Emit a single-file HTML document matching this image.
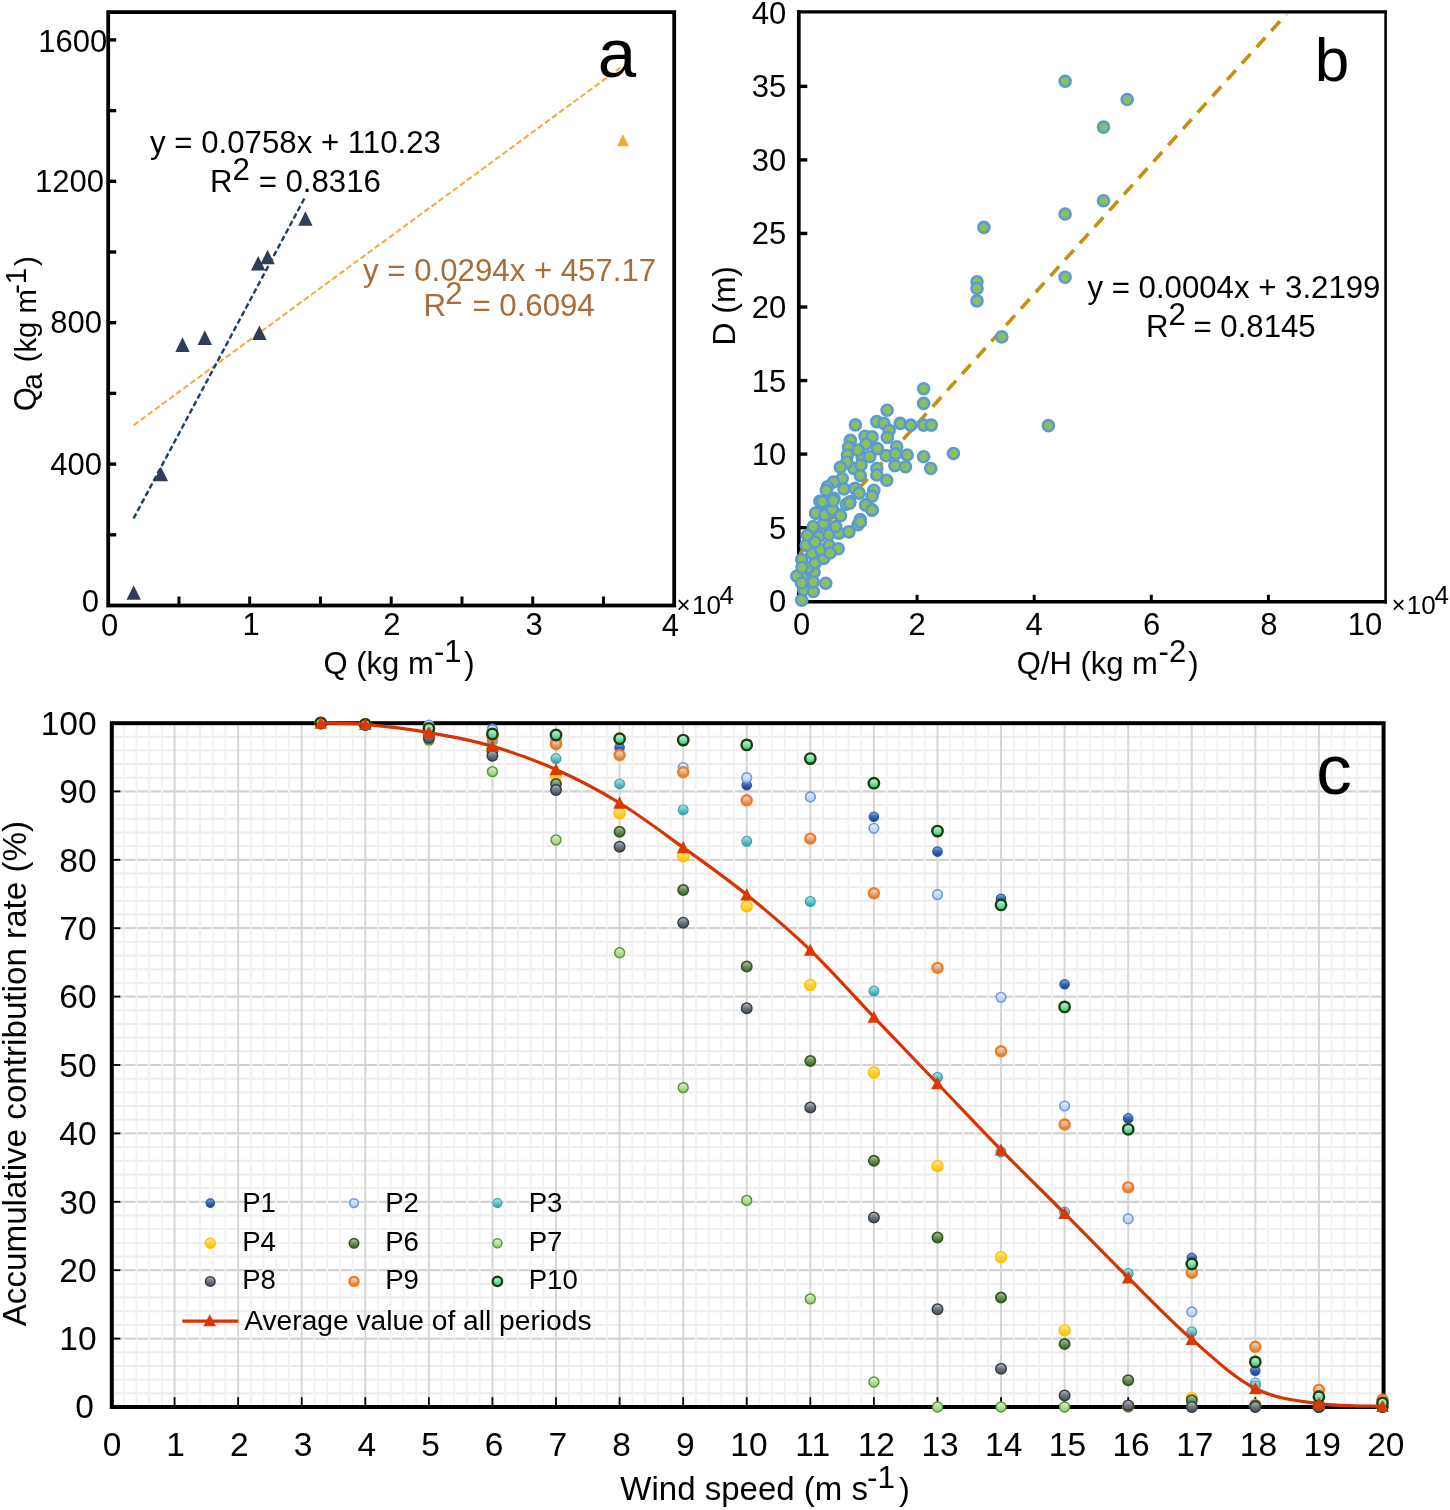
<!DOCTYPE html>
<html><head><meta charset="utf-8"><style>
html,body{margin:0;padding:0;background:#fff;}
svg{display:block;font-family:"Liberation Sans", sans-serif;will-change:transform;}
</style></head><body>
<svg width="1450" height="1510" viewBox="0 0 1450 1510">
<rect width="1450" height="1510" fill="#fff"/>
<g id="pa">
<line x1="133.60" y1="425.23" x2="620.50" y2="67.62" stroke="#f6a842" stroke-width="2.0" stroke-dasharray="6 2.8"/>
<line x1="133.60" y1="518.43" x2="304.90" y2="197.50" stroke="#f3e6a0" stroke-width="1.0"/>
<line x1="133.60" y1="518.43" x2="304.90" y2="197.50" stroke="#163f78" stroke-width="2.4" stroke-dasharray="5.5 3"/>
<path d="M133.7 585.2 L140.9 599.8 L126.5 599.8 Z" fill="#2e3e56"/>
<path d="M160.9 466.7 L168.1 481.3 L153.7 481.3 Z" fill="#2e3e56"/>
<path d="M182.5 337.3 L189.7 351.9 L175.3 351.9 Z" fill="#2e3e56"/>
<path d="M204.8 330.3 L212.0 344.9 L197.6 344.9 Z" fill="#2e3e56"/>
<path d="M259.4 325.4 L266.6 340.0 L252.2 340.0 Z" fill="#2e3e56"/>
<path d="M258.2 255.9 L265.4 270.5 L251.0 270.5 Z" fill="#2e3e56"/>
<path d="M267.6 249.7 L274.8 264.3 L260.4 264.3 Z" fill="#2e3e56"/>
<path d="M305.4 211.2 L312.6 225.8 L298.2 225.8 Z" fill="#2e3e56"/>
<path d="M623.0 134.3 L629.0 146.3 L617.0 146.3 Z" fill="#f2a93b"/>
<rect x="108.2" y="12.1" width="566.0" height="593.4" fill="none" stroke="#000" stroke-width="3.8"/>
<line x1="178.95" y1="605.50" x2="178.95" y2="596.50" stroke="#000" stroke-width="3"/>
<line x1="249.70" y1="605.50" x2="249.70" y2="596.50" stroke="#000" stroke-width="3"/>
<line x1="320.45" y1="605.50" x2="320.45" y2="596.50" stroke="#000" stroke-width="3"/>
<line x1="391.20" y1="605.50" x2="391.20" y2="596.50" stroke="#000" stroke-width="3"/>
<line x1="461.95" y1="605.50" x2="461.95" y2="596.50" stroke="#000" stroke-width="3"/>
<line x1="532.70" y1="605.50" x2="532.70" y2="596.50" stroke="#000" stroke-width="3"/>
<line x1="603.45" y1="605.50" x2="603.45" y2="596.50" stroke="#000" stroke-width="3"/>
<line x1="108.20" y1="534.80" x2="116.20" y2="534.80" stroke="#000" stroke-width="3.4"/>
<line x1="108.20" y1="464.10" x2="116.20" y2="464.10" stroke="#000" stroke-width="3.4"/>
<line x1="108.20" y1="393.40" x2="116.20" y2="393.40" stroke="#000" stroke-width="3.4"/>
<line x1="108.20" y1="322.70" x2="116.20" y2="322.70" stroke="#000" stroke-width="3.4"/>
<line x1="108.20" y1="252.00" x2="116.20" y2="252.00" stroke="#000" stroke-width="3.4"/>
<line x1="108.20" y1="181.30" x2="116.20" y2="181.30" stroke="#000" stroke-width="3.4"/>
<line x1="108.20" y1="110.60" x2="116.20" y2="110.60" stroke="#000" stroke-width="3.4"/>
<line x1="108.20" y1="39.90" x2="116.20" y2="39.90" stroke="#000" stroke-width="3.4"/>
<text x="38.17" y="51.59" font-size="31" fill="#000">1600</text>
<text x="34.97" y="192.49" font-size="31" fill="#000">1200</text>
<text x="50.37" y="333.09" font-size="31" fill="#000">800</text>
<text x="50.37" y="474.89" font-size="31" fill="#000">400</text>
<text x="81.86" y="612.49" font-size="31" fill="#000">0</text>
<text x="109.5" y="636.10" font-size="31" text-anchor="middle">0</text>
<text x="251.2" y="635.30" font-size="31" text-anchor="middle">1</text>
<text x="391.8" y="635.30" font-size="31" text-anchor="middle">2</text>
<text x="534.1" y="635.30" font-size="31" text-anchor="middle">3</text>
<text x="670.3" y="635.50" font-size="31" text-anchor="middle">4</text>
<text x="676.62" y="613.40" font-size="24" fill="#000">×</text>
<text x="692.05" y="614.34" font-size="26" fill="#000">10</text>
<text x="719.51" y="604.30" font-size="26" fill="#000">4</text>
<text x="323.53" y="674.10" font-size="31" fill="#000">Q (kg m</text>
<text x="433.91" y="662.00" font-size="31" fill="#000">-1</text>
<text x="464.37" y="674.10" font-size="31" fill="#000">)</text>
<g transform="translate(36,409.9) rotate(-90)">
<text x="-1.47" y="0.00" font-size="31" fill="#000">Q</text>
<text x="20.12" y="5.70" font-size="30" fill="#000">a</text>
<text x="47.67" y="0.00" font-size="29.2" fill="#000">(kg m</text>
<text x="115.87" y="-10.10" font-size="29.5" fill="#000">-1</text>
<text x="143.98" y="0.00" font-size="29.5" fill="#000">)</text>
</g>
<text x="150.12" y="152.70" font-size="31.2" fill="#000">y = 0.0758x + 110.23</text>
<text x="209.93" y="192.40" font-size="31.2" fill="#000">R</text>
<text x="232.44" y="180.00" font-size="31.2" fill="#000">2</text>
<text x="258.64" y="192.40" font-size="31.2" fill="#000">= 0.8316</text>
<text x="363.12" y="280.60" font-size="31.2" fill="#a96d3c">y = 0.0294x + 457.17</text>
<text x="423.43" y="316.00" font-size="31.2" fill="#a96d3c">R</text>
<text x="445.34" y="303.80" font-size="31.2" fill="#a96d3c">2</text>
<text x="472.44" y="316.00" font-size="31.2" fill="#a96d3c">= 0.6094</text>
<text x="597.77" y="77.00" font-size="69" fill="#000">a</text>
</g>
<g id="pb">
<path d="M798.8 10.3 V603.6" stroke="#000" stroke-width="3.7"/>
<path d="M797 601.8 H1386.9" stroke="#000" stroke-width="3.4"/>
<path d="M1385.6 603.5 V10.4" stroke="#000" stroke-width="2.6"/>
<path d="M797 11.9 H1386.9" stroke="#000" stroke-width="3.1"/>
<line x1="917.10" y1="601.80" x2="917.10" y2="594.80" stroke="#000" stroke-width="3"/>
<line x1="1034.20" y1="601.80" x2="1034.20" y2="594.80" stroke="#000" stroke-width="3"/>
<line x1="1151.30" y1="601.80" x2="1151.30" y2="594.80" stroke="#000" stroke-width="3"/>
<line x1="1268.40" y1="601.80" x2="1268.40" y2="594.80" stroke="#000" stroke-width="3"/>
<line x1="798.80" y1="527.65" x2="807.30" y2="527.65" stroke="#000" stroke-width="3.4"/>
<line x1="798.80" y1="454.10" x2="807.30" y2="454.10" stroke="#000" stroke-width="3.4"/>
<line x1="798.80" y1="380.55" x2="807.30" y2="380.55" stroke="#000" stroke-width="3.4"/>
<line x1="798.80" y1="307.00" x2="807.30" y2="307.00" stroke="#000" stroke-width="3.4"/>
<line x1="798.80" y1="233.45" x2="807.30" y2="233.45" stroke="#000" stroke-width="3.4"/>
<line x1="798.80" y1="159.90" x2="807.30" y2="159.90" stroke="#000" stroke-width="3.4"/>
<line x1="798.80" y1="86.35" x2="807.30" y2="86.35" stroke="#000" stroke-width="3.4"/>
<line x1="800" y1="553.8" x2="1286.5" y2="14" stroke="#c3900f" stroke-width="3.6" stroke-dasharray="13 9"/>
<circle cx="1065.1" cy="81.2" r="5.5" fill="#8bbf5e" stroke="#5b9bd5" stroke-width="2.6"/>
<circle cx="1127.2" cy="99.5" r="5.5" fill="#8bbf5e" stroke="#5b9bd5" stroke-width="2.6"/>
<circle cx="1103.5" cy="127.1" r="5.5" fill="#8bbf5e" stroke="#5b9bd5" stroke-width="2.6"/>
<circle cx="1103.5" cy="200.8" r="5.5" fill="#8bbf5e" stroke="#5b9bd5" stroke-width="2.6"/>
<circle cx="1065.1" cy="214.0" r="5.5" fill="#8bbf5e" stroke="#5b9bd5" stroke-width="2.6"/>
<circle cx="983.9" cy="227.4" r="5.5" fill="#8bbf5e" stroke="#5b9bd5" stroke-width="2.6"/>
<circle cx="1065.1" cy="277.3" r="5.5" fill="#8bbf5e" stroke="#5b9bd5" stroke-width="2.6"/>
<circle cx="977.0" cy="281.8" r="5.5" fill="#8bbf5e" stroke="#5b9bd5" stroke-width="2.6"/>
<circle cx="977.0" cy="288.5" r="5.5" fill="#8bbf5e" stroke="#5b9bd5" stroke-width="2.6"/>
<circle cx="977.0" cy="300.9" r="5.5" fill="#8bbf5e" stroke="#5b9bd5" stroke-width="2.6"/>
<circle cx="1001.8" cy="336.9" r="5.5" fill="#8bbf5e" stroke="#5b9bd5" stroke-width="2.6"/>
<circle cx="1048.4" cy="425.6" r="5.5" fill="#8bbf5e" stroke="#5b9bd5" stroke-width="2.6"/>
<circle cx="953.4" cy="453.5" r="5.5" fill="#8bbf5e" stroke="#5b9bd5" stroke-width="2.6"/>
<circle cx="923.6" cy="388.8" r="5.5" fill="#8bbf5e" stroke="#5b9bd5" stroke-width="2.6"/>
<circle cx="923.6" cy="403.4" r="5.5" fill="#8bbf5e" stroke="#5b9bd5" stroke-width="2.6"/>
<circle cx="887.1" cy="410.2" r="5.5" fill="#8bbf5e" stroke="#5b9bd5" stroke-width="2.6"/>
<circle cx="855.4" cy="424.9" r="5.5" fill="#8bbf5e" stroke="#5b9bd5" stroke-width="2.6"/>
<circle cx="876.8" cy="421.6" r="5.5" fill="#8bbf5e" stroke="#5b9bd5" stroke-width="2.6"/>
<circle cx="883.8" cy="423.4" r="5.5" fill="#8bbf5e" stroke="#5b9bd5" stroke-width="2.6"/>
<circle cx="900.2" cy="423.4" r="5.5" fill="#8bbf5e" stroke="#5b9bd5" stroke-width="2.6"/>
<circle cx="910.7" cy="425.1" r="5.5" fill="#8bbf5e" stroke="#5b9bd5" stroke-width="2.6"/>
<circle cx="923.6" cy="425.1" r="5.5" fill="#8bbf5e" stroke="#5b9bd5" stroke-width="2.6"/>
<circle cx="931.3" cy="425.1" r="5.5" fill="#8bbf5e" stroke="#5b9bd5" stroke-width="2.6"/>
<circle cx="889.1" cy="430.4" r="5.5" fill="#8bbf5e" stroke="#5b9bd5" stroke-width="2.6"/>
<circle cx="887.3" cy="437.4" r="5.5" fill="#8bbf5e" stroke="#5b9bd5" stroke-width="2.6"/>
<circle cx="865.0" cy="436.3" r="5.5" fill="#8bbf5e" stroke="#5b9bd5" stroke-width="2.6"/>
<circle cx="872.1" cy="436.9" r="5.5" fill="#8bbf5e" stroke="#5b9bd5" stroke-width="2.6"/>
<circle cx="850.4" cy="440.4" r="5.5" fill="#8bbf5e" stroke="#5b9bd5" stroke-width="2.6"/>
<circle cx="848.6" cy="447.4" r="5.5" fill="#8bbf5e" stroke="#5b9bd5" stroke-width="2.6"/>
<circle cx="877.3" cy="448.6" r="5.5" fill="#8bbf5e" stroke="#5b9bd5" stroke-width="2.6"/>
<circle cx="896.7" cy="446.8" r="5.5" fill="#8bbf5e" stroke="#5b9bd5" stroke-width="2.6"/>
<circle cx="907.2" cy="455.0" r="5.5" fill="#8bbf5e" stroke="#5b9bd5" stroke-width="2.6"/>
<circle cx="923.6" cy="456.8" r="5.5" fill="#8bbf5e" stroke="#5b9bd5" stroke-width="2.6"/>
<circle cx="886.1" cy="455.6" r="5.5" fill="#8bbf5e" stroke="#5b9bd5" stroke-width="2.6"/>
<circle cx="895.5" cy="453.9" r="5.5" fill="#8bbf5e" stroke="#5b9bd5" stroke-width="2.6"/>
<circle cx="862.1" cy="456.8" r="5.5" fill="#8bbf5e" stroke="#5b9bd5" stroke-width="2.6"/>
<circle cx="869.7" cy="456.8" r="5.5" fill="#8bbf5e" stroke="#5b9bd5" stroke-width="2.6"/>
<circle cx="847.4" cy="455.0" r="5.5" fill="#8bbf5e" stroke="#5b9bd5" stroke-width="2.6"/>
<circle cx="894.9" cy="465.6" r="5.5" fill="#8bbf5e" stroke="#5b9bd5" stroke-width="2.6"/>
<circle cx="905.5" cy="466.8" r="5.5" fill="#8bbf5e" stroke="#5b9bd5" stroke-width="2.6"/>
<circle cx="930.7" cy="468.5" r="5.5" fill="#8bbf5e" stroke="#5b9bd5" stroke-width="2.6"/>
<circle cx="876.8" cy="468.5" r="5.5" fill="#8bbf5e" stroke="#5b9bd5" stroke-width="2.6"/>
<circle cx="876.8" cy="475.0" r="5.5" fill="#8bbf5e" stroke="#5b9bd5" stroke-width="2.6"/>
<circle cx="886.7" cy="480.2" r="5.5" fill="#8bbf5e" stroke="#5b9bd5" stroke-width="2.6"/>
<circle cx="853.9" cy="468.5" r="5.5" fill="#8bbf5e" stroke="#5b9bd5" stroke-width="2.6"/>
<circle cx="846.9" cy="462.1" r="5.5" fill="#8bbf5e" stroke="#5b9bd5" stroke-width="2.6"/>
<circle cx="840.4" cy="467.3" r="5.5" fill="#8bbf5e" stroke="#5b9bd5" stroke-width="2.6"/>
<circle cx="842.2" cy="478.5" r="5.5" fill="#8bbf5e" stroke="#5b9bd5" stroke-width="2.6"/>
<circle cx="860.3" cy="475.5" r="5.5" fill="#8bbf5e" stroke="#5b9bd5" stroke-width="2.6"/>
<circle cx="833.4" cy="482.0" r="5.5" fill="#8bbf5e" stroke="#5b9bd5" stroke-width="2.6"/>
<circle cx="827.5" cy="486.7" r="5.5" fill="#8bbf5e" stroke="#5b9bd5" stroke-width="2.6"/>
<circle cx="826.3" cy="490.2" r="5.5" fill="#8bbf5e" stroke="#5b9bd5" stroke-width="2.6"/>
<circle cx="843.9" cy="489.0" r="5.5" fill="#8bbf5e" stroke="#5b9bd5" stroke-width="2.6"/>
<circle cx="855.1" cy="488.4" r="5.5" fill="#8bbf5e" stroke="#5b9bd5" stroke-width="2.6"/>
<circle cx="859.2" cy="493.1" r="5.5" fill="#8bbf5e" stroke="#5b9bd5" stroke-width="2.6"/>
<circle cx="873.8" cy="490.2" r="5.5" fill="#8bbf5e" stroke="#5b9bd5" stroke-width="2.6"/>
<circle cx="872.1" cy="496.1" r="5.5" fill="#8bbf5e" stroke="#5b9bd5" stroke-width="2.6"/>
<circle cx="834.0" cy="498.4" r="5.5" fill="#8bbf5e" stroke="#5b9bd5" stroke-width="2.6"/>
<circle cx="819.9" cy="501.3" r="5.5" fill="#8bbf5e" stroke="#5b9bd5" stroke-width="2.6"/>
<circle cx="849.8" cy="501.9" r="5.5" fill="#8bbf5e" stroke="#5b9bd5" stroke-width="2.6"/>
<circle cx="846.3" cy="504.3" r="5.5" fill="#8bbf5e" stroke="#5b9bd5" stroke-width="2.6"/>
<circle cx="866.2" cy="504.9" r="5.5" fill="#8bbf5e" stroke="#5b9bd5" stroke-width="2.6"/>
<circle cx="872.1" cy="510.1" r="5.5" fill="#8bbf5e" stroke="#5b9bd5" stroke-width="2.6"/>
<circle cx="815.8" cy="513.1" r="5.5" fill="#8bbf5e" stroke="#5b9bd5" stroke-width="2.6"/>
<circle cx="825.2" cy="513.6" r="5.5" fill="#8bbf5e" stroke="#5b9bd5" stroke-width="2.6"/>
<circle cx="832.2" cy="509.0" r="5.5" fill="#8bbf5e" stroke="#5b9bd5" stroke-width="2.6"/>
<circle cx="839.2" cy="514.8" r="5.5" fill="#8bbf5e" stroke="#5b9bd5" stroke-width="2.6"/>
<circle cx="860.3" cy="519.5" r="5.5" fill="#8bbf5e" stroke="#5b9bd5" stroke-width="2.6"/>
<circle cx="801.7" cy="600.2" r="5.5" fill="#8bbf5e" stroke="#5b9bd5" stroke-width="2.6"/>
<circle cx="803.8" cy="589.8" r="5.5" fill="#8bbf5e" stroke="#5b9bd5" stroke-width="2.6"/>
<circle cx="813.3" cy="591.5" r="5.5" fill="#8bbf5e" stroke="#5b9bd5" stroke-width="2.6"/>
<circle cx="825.7" cy="583.2" r="5.5" fill="#8bbf5e" stroke="#5b9bd5" stroke-width="2.6"/>
<circle cx="803.8" cy="574.9" r="5.5" fill="#8bbf5e" stroke="#5b9bd5" stroke-width="2.6"/>
<circle cx="814.1" cy="572.0" r="5.5" fill="#8bbf5e" stroke="#5b9bd5" stroke-width="2.6"/>
<circle cx="807.9" cy="567.9" r="5.5" fill="#8bbf5e" stroke="#5b9bd5" stroke-width="2.6"/>
<circle cx="801.7" cy="559.6" r="5.5" fill="#8bbf5e" stroke="#5b9bd5" stroke-width="2.6"/>
<circle cx="815.0" cy="562.9" r="5.5" fill="#8bbf5e" stroke="#5b9bd5" stroke-width="2.6"/>
<circle cx="812.1" cy="553.4" r="5.5" fill="#8bbf5e" stroke="#5b9bd5" stroke-width="2.6"/>
<circle cx="823.7" cy="558.4" r="5.5" fill="#8bbf5e" stroke="#5b9bd5" stroke-width="2.6"/>
<circle cx="806.3" cy="545.1" r="5.5" fill="#8bbf5e" stroke="#5b9bd5" stroke-width="2.6"/>
<circle cx="820.8" cy="549.7" r="5.5" fill="#8bbf5e" stroke="#5b9bd5" stroke-width="2.6"/>
<circle cx="829.0" cy="545.5" r="5.5" fill="#8bbf5e" stroke="#5b9bd5" stroke-width="2.6"/>
<circle cx="838.2" cy="548.8" r="5.5" fill="#8bbf5e" stroke="#5b9bd5" stroke-width="2.6"/>
<circle cx="807.5" cy="535.2" r="5.5" fill="#8bbf5e" stroke="#5b9bd5" stroke-width="2.6"/>
<circle cx="818.7" cy="536.8" r="5.5" fill="#8bbf5e" stroke="#5b9bd5" stroke-width="2.6"/>
<circle cx="829.0" cy="534.8" r="5.5" fill="#8bbf5e" stroke="#5b9bd5" stroke-width="2.6"/>
<circle cx="839.0" cy="533.1" r="5.5" fill="#8bbf5e" stroke="#5b9bd5" stroke-width="2.6"/>
<circle cx="813.3" cy="526.5" r="5.5" fill="#8bbf5e" stroke="#5b9bd5" stroke-width="2.6"/>
<circle cx="823.7" cy="523.6" r="5.5" fill="#8bbf5e" stroke="#5b9bd5" stroke-width="2.6"/>
<circle cx="835.7" cy="526.5" r="5.5" fill="#8bbf5e" stroke="#5b9bd5" stroke-width="2.6"/>
<circle cx="848.9" cy="531.9" r="5.5" fill="#8bbf5e" stroke="#5b9bd5" stroke-width="2.6"/>
<circle cx="858.0" cy="524.8" r="5.5" fill="#8bbf5e" stroke="#5b9bd5" stroke-width="2.6"/>
<circle cx="860.5" cy="521.9" r="5.5" fill="#8bbf5e" stroke="#5b9bd5" stroke-width="2.6"/>
<circle cx="815.8" cy="513.2" r="5.5" fill="#8bbf5e" stroke="#5b9bd5" stroke-width="2.6"/>
<circle cx="824.9" cy="514.9" r="5.5" fill="#8bbf5e" stroke="#5b9bd5" stroke-width="2.6"/>
<circle cx="832.4" cy="509.9" r="5.5" fill="#8bbf5e" stroke="#5b9bd5" stroke-width="2.6"/>
<circle cx="840.6" cy="515.7" r="5.5" fill="#8bbf5e" stroke="#5b9bd5" stroke-width="2.6"/>
<circle cx="822.4" cy="501.7" r="5.5" fill="#8bbf5e" stroke="#5b9bd5" stroke-width="2.6"/>
<circle cx="833.2" cy="500.8" r="5.5" fill="#8bbf5e" stroke="#5b9bd5" stroke-width="2.6"/>
<circle cx="849.7" cy="503.3" r="5.5" fill="#8bbf5e" stroke="#5b9bd5" stroke-width="2.6"/>
<circle cx="865.5" cy="505.0" r="5.5" fill="#8bbf5e" stroke="#5b9bd5" stroke-width="2.6"/>
<circle cx="872.1" cy="509.9" r="5.5" fill="#8bbf5e" stroke="#5b9bd5" stroke-width="2.6"/>
<circle cx="802.6" cy="577.8" r="5.5" fill="#8bbf5e" stroke="#5b9bd5" stroke-width="2.6"/>
<circle cx="796.8" cy="576.2" r="5.5" fill="#8bbf5e" stroke="#5b9bd5" stroke-width="2.6"/>
<circle cx="813.3" cy="582.0" r="5.5" fill="#8bbf5e" stroke="#5b9bd5" stroke-width="2.6"/>
<circle cx="866.0" cy="444.0" r="5.5" fill="#8bbf5e" stroke="#5b9bd5" stroke-width="2.6"/>
<circle cx="858.0" cy="450.0" r="5.5" fill="#8bbf5e" stroke="#5b9bd5" stroke-width="2.6"/>
<circle cx="861.0" cy="465.0" r="5.5" fill="#8bbf5e" stroke="#5b9bd5" stroke-width="2.6"/>
<circle cx="815.0" cy="542.0" r="5.5" fill="#8bbf5e" stroke="#5b9bd5" stroke-width="2.6"/>
<circle cx="830.0" cy="553.0" r="5.5" fill="#8bbf5e" stroke="#5b9bd5" stroke-width="2.6"/>
<circle cx="801.5" cy="583.0" r="5.5" fill="#8bbf5e" stroke="#5b9bd5" stroke-width="2.6"/>
<circle cx="802.0" cy="567.5" r="5.5" fill="#8bbf5e" stroke="#5b9bd5" stroke-width="2.6"/>
<text x="751.75" y="23.77" font-size="31" fill="#000">40</text>
<text x="751.83" y="97.32" font-size="31" fill="#000">35</text>
<text x="751.75" y="170.87" font-size="31" fill="#000">30</text>
<text x="751.83" y="244.42" font-size="31" fill="#000">25</text>
<text x="751.75" y="317.97" font-size="31" fill="#000">20</text>
<text x="751.83" y="391.52" font-size="31" fill="#000">15</text>
<text x="751.75" y="465.07" font-size="31" fill="#000">10</text>
<text x="769.03" y="538.62" font-size="31" fill="#000">5</text>
<text x="768.96" y="612.17" font-size="31" fill="#000">0</text>
<text x="801.7" y="635.40" font-size="31" text-anchor="middle">0</text>
<text x="917.1" y="635.40" font-size="31" text-anchor="middle">2</text>
<text x="1034.2" y="635.40" font-size="31" text-anchor="middle">4</text>
<text x="1151.7" y="635.40" font-size="31" text-anchor="middle">6</text>
<text x="1268.8" y="635.40" font-size="31" text-anchor="middle">8</text>
<text x="1365.1" y="635.40" font-size="31" text-anchor="middle">10</text>
<text x="1391.62" y="613.10" font-size="24" fill="#000">×</text>
<text x="1406.75" y="614.14" font-size="26" fill="#000">10</text>
<text x="1434.62" y="604.10" font-size="26" fill="#000">4</text>
<text x="1016.73" y="674.30" font-size="31" fill="#000">Q/H (kg m</text>
<text x="1158.61" y="662.00" font-size="31" fill="#000">-2</text>
<text x="1188.27" y="674.30" font-size="31" fill="#000">)</text>
<g transform="translate(735,342.9) rotate(-90)">
<text x="-2.62" y="0.00" font-size="31.8" fill="#000">D (m)</text>
</g>
<text x="1087.42" y="297.50" font-size="31.2" fill="#000">y = 0.0004x + 3.2199</text>
<text x="1145.93" y="337.30" font-size="31.2" fill="#000">R</text>
<text x="1168.44" y="325.00" font-size="31.2" fill="#000">2</text>
<text x="1193.44" y="337.30" font-size="31.2" fill="#000">= 0.8145</text>
<text x="1314.67" y="80.70" font-size="62" fill="#000">b</text>
</g>
<defs>
<linearGradient id="gP1" x1="0" y1="0" x2="0" y2="1"><stop offset="0" stop-color="#86a8e0"/><stop offset="0.5" stop-color="#3765b6"/><stop offset="1" stop-color="#1a3f85"/></linearGradient>
<linearGradient id="gP2" x1="0" y1="0" x2="0" y2="1"><stop offset="0" stop-color="#e4edf9"/><stop offset="0.5" stop-color="#c9dbf3"/><stop offset="1" stop-color="#afc9ee"/></linearGradient>
<linearGradient id="gP3" x1="0" y1="0" x2="0" y2="1"><stop offset="0" stop-color="#b5e3e6"/><stop offset="0.5" stop-color="#6cc2ca"/><stop offset="1" stop-color="#2f98a4"/></linearGradient>
<linearGradient id="gP4" x1="0" y1="0" x2="0" y2="1"><stop offset="0" stop-color="#fff0a0"/><stop offset="0.5" stop-color="#ffd23a"/><stop offset="1" stop-color="#ffbf00"/></linearGradient>
<linearGradient id="gP6" x1="0" y1="0" x2="0" y2="1"><stop offset="0" stop-color="#b7c9ad"/><stop offset="0.5" stop-color="#6d8f5c"/><stop offset="1" stop-color="#3b6129"/></linearGradient>
<linearGradient id="gP7" x1="0" y1="0" x2="0" y2="1"><stop offset="0" stop-color="#dcefce"/><stop offset="0.5" stop-color="#bcdca2"/><stop offset="1" stop-color="#98c676"/></linearGradient>
<linearGradient id="gP8" x1="0" y1="0" x2="0" y2="1"><stop offset="0" stop-color="#b3bcc6"/><stop offset="0.5" stop-color="#6c7783"/><stop offset="1" stop-color="#434c56"/></linearGradient>
<linearGradient id="gP9" x1="0" y1="0" x2="0" y2="1"><stop offset="0" stop-color="#f5e0d2"/><stop offset="0.5" stop-color="#e6b08a"/><stop offset="1" stop-color="#c9763c"/></linearGradient>
<linearGradient id="gP10" x1="0" y1="0" x2="0" y2="1"><stop offset="0" stop-color="#c8f5e0"/><stop offset="0.5" stop-color="#7ee0ae"/><stop offset="1" stop-color="#30c070"/></linearGradient>
</defs>
<g id="pc">
<line x1="111.80" y1="1338.60" x2="1383.60" y2="1338.60" stroke="#d2d2d2" stroke-width="2.2"/>
<line x1="111.80" y1="1270.20" x2="1383.60" y2="1270.20" stroke="#d2d2d2" stroke-width="2.2"/>
<line x1="111.80" y1="1201.80" x2="1383.60" y2="1201.80" stroke="#d2d2d2" stroke-width="2.2"/>
<line x1="111.80" y1="1133.40" x2="1383.60" y2="1133.40" stroke="#d2d2d2" stroke-width="2.2"/>
<line x1="111.80" y1="1065.00" x2="1383.60" y2="1065.00" stroke="#d2d2d2" stroke-width="2.2"/>
<line x1="111.80" y1="996.60" x2="1383.60" y2="996.60" stroke="#d2d2d2" stroke-width="2.2"/>
<line x1="111.80" y1="928.20" x2="1383.60" y2="928.20" stroke="#d2d2d2" stroke-width="2.2"/>
<line x1="111.80" y1="859.80" x2="1383.60" y2="859.80" stroke="#d2d2d2" stroke-width="2.2"/>
<line x1="111.80" y1="791.40" x2="1383.60" y2="791.40" stroke="#d2d2d2" stroke-width="2.2"/>
<line x1="111.80" y1="1393.32" x2="1383.60" y2="1393.32" stroke="#ececec" stroke-width="1.9"/>
<line x1="111.80" y1="1379.64" x2="1383.60" y2="1379.64" stroke="#ececec" stroke-width="1.9"/>
<line x1="111.80" y1="1365.96" x2="1383.60" y2="1365.96" stroke="#ececec" stroke-width="1.9"/>
<line x1="111.80" y1="1352.28" x2="1383.60" y2="1352.28" stroke="#ececec" stroke-width="1.9"/>
<line x1="111.80" y1="1324.92" x2="1383.60" y2="1324.92" stroke="#ececec" stroke-width="1.9"/>
<line x1="111.80" y1="1311.24" x2="1383.60" y2="1311.24" stroke="#ececec" stroke-width="1.9"/>
<line x1="111.80" y1="1297.56" x2="1383.60" y2="1297.56" stroke="#ececec" stroke-width="1.9"/>
<line x1="111.80" y1="1283.88" x2="1383.60" y2="1283.88" stroke="#ececec" stroke-width="1.9"/>
<line x1="111.80" y1="1256.52" x2="1383.60" y2="1256.52" stroke="#ececec" stroke-width="1.9"/>
<line x1="111.80" y1="1242.84" x2="1383.60" y2="1242.84" stroke="#ececec" stroke-width="1.9"/>
<line x1="111.80" y1="1229.16" x2="1383.60" y2="1229.16" stroke="#ececec" stroke-width="1.9"/>
<line x1="111.80" y1="1215.48" x2="1383.60" y2="1215.48" stroke="#ececec" stroke-width="1.9"/>
<line x1="111.80" y1="1188.12" x2="1383.60" y2="1188.12" stroke="#ececec" stroke-width="1.9"/>
<line x1="111.80" y1="1174.44" x2="1383.60" y2="1174.44" stroke="#ececec" stroke-width="1.9"/>
<line x1="111.80" y1="1160.76" x2="1383.60" y2="1160.76" stroke="#ececec" stroke-width="1.9"/>
<line x1="111.80" y1="1147.08" x2="1383.60" y2="1147.08" stroke="#ececec" stroke-width="1.9"/>
<line x1="111.80" y1="1119.72" x2="1383.60" y2="1119.72" stroke="#ececec" stroke-width="1.9"/>
<line x1="111.80" y1="1106.04" x2="1383.60" y2="1106.04" stroke="#ececec" stroke-width="1.9"/>
<line x1="111.80" y1="1092.36" x2="1383.60" y2="1092.36" stroke="#ececec" stroke-width="1.9"/>
<line x1="111.80" y1="1078.68" x2="1383.60" y2="1078.68" stroke="#ececec" stroke-width="1.9"/>
<line x1="111.80" y1="1051.32" x2="1383.60" y2="1051.32" stroke="#ececec" stroke-width="1.9"/>
<line x1="111.80" y1="1037.64" x2="1383.60" y2="1037.64" stroke="#ececec" stroke-width="1.9"/>
<line x1="111.80" y1="1023.96" x2="1383.60" y2="1023.96" stroke="#ececec" stroke-width="1.9"/>
<line x1="111.80" y1="1010.28" x2="1383.60" y2="1010.28" stroke="#ececec" stroke-width="1.9"/>
<line x1="111.80" y1="982.92" x2="1383.60" y2="982.92" stroke="#ececec" stroke-width="1.9"/>
<line x1="111.80" y1="969.24" x2="1383.60" y2="969.24" stroke="#ececec" stroke-width="1.9"/>
<line x1="111.80" y1="955.56" x2="1383.60" y2="955.56" stroke="#ececec" stroke-width="1.9"/>
<line x1="111.80" y1="941.88" x2="1383.60" y2="941.88" stroke="#ececec" stroke-width="1.9"/>
<line x1="111.80" y1="914.52" x2="1383.60" y2="914.52" stroke="#ececec" stroke-width="1.9"/>
<line x1="111.80" y1="900.84" x2="1383.60" y2="900.84" stroke="#ececec" stroke-width="1.9"/>
<line x1="111.80" y1="887.16" x2="1383.60" y2="887.16" stroke="#ececec" stroke-width="1.9"/>
<line x1="111.80" y1="873.48" x2="1383.60" y2="873.48" stroke="#ececec" stroke-width="1.9"/>
<line x1="111.80" y1="846.12" x2="1383.60" y2="846.12" stroke="#ececec" stroke-width="1.9"/>
<line x1="111.80" y1="832.44" x2="1383.60" y2="832.44" stroke="#ececec" stroke-width="1.9"/>
<line x1="111.80" y1="818.76" x2="1383.60" y2="818.76" stroke="#ececec" stroke-width="1.9"/>
<line x1="111.80" y1="805.08" x2="1383.60" y2="805.08" stroke="#ececec" stroke-width="1.9"/>
<line x1="111.80" y1="777.72" x2="1383.60" y2="777.72" stroke="#ececec" stroke-width="1.9"/>
<line x1="111.80" y1="764.04" x2="1383.60" y2="764.04" stroke="#ececec" stroke-width="1.9"/>
<line x1="111.80" y1="750.36" x2="1383.60" y2="750.36" stroke="#ececec" stroke-width="1.9"/>
<line x1="111.80" y1="736.68" x2="1383.60" y2="736.68" stroke="#ececec" stroke-width="1.9"/>
<line x1="123.71" y1="723.20" x2="123.71" y2="1407.00" stroke="#f1f1f1" stroke-width="1.9"/>
<line x1="136.43" y1="723.20" x2="136.43" y2="1407.00" stroke="#f1f1f1" stroke-width="1.9"/>
<line x1="149.14" y1="723.20" x2="149.14" y2="1407.00" stroke="#f1f1f1" stroke-width="1.9"/>
<line x1="161.86" y1="723.20" x2="161.86" y2="1407.00" stroke="#f1f1f1" stroke-width="1.9"/>
<line x1="187.29" y1="723.20" x2="187.29" y2="1407.00" stroke="#f1f1f1" stroke-width="1.9"/>
<line x1="200.00" y1="723.20" x2="200.00" y2="1407.00" stroke="#f1f1f1" stroke-width="1.9"/>
<line x1="212.72" y1="723.20" x2="212.72" y2="1407.00" stroke="#f1f1f1" stroke-width="1.9"/>
<line x1="225.43" y1="723.20" x2="225.43" y2="1407.00" stroke="#f1f1f1" stroke-width="1.9"/>
<line x1="250.86" y1="723.20" x2="250.86" y2="1407.00" stroke="#f1f1f1" stroke-width="1.9"/>
<line x1="263.58" y1="723.20" x2="263.58" y2="1407.00" stroke="#f1f1f1" stroke-width="1.9"/>
<line x1="276.29" y1="723.20" x2="276.29" y2="1407.00" stroke="#f1f1f1" stroke-width="1.9"/>
<line x1="289.01" y1="723.20" x2="289.01" y2="1407.00" stroke="#f1f1f1" stroke-width="1.9"/>
<line x1="314.44" y1="723.20" x2="314.44" y2="1407.00" stroke="#f1f1f1" stroke-width="1.9"/>
<line x1="327.15" y1="723.20" x2="327.15" y2="1407.00" stroke="#f1f1f1" stroke-width="1.9"/>
<line x1="339.87" y1="723.20" x2="339.87" y2="1407.00" stroke="#f1f1f1" stroke-width="1.9"/>
<line x1="352.58" y1="723.20" x2="352.58" y2="1407.00" stroke="#f1f1f1" stroke-width="1.9"/>
<line x1="378.01" y1="723.20" x2="378.01" y2="1407.00" stroke="#f1f1f1" stroke-width="1.9"/>
<line x1="390.73" y1="723.20" x2="390.73" y2="1407.00" stroke="#f1f1f1" stroke-width="1.9"/>
<line x1="403.44" y1="723.20" x2="403.44" y2="1407.00" stroke="#f1f1f1" stroke-width="1.9"/>
<line x1="416.16" y1="723.20" x2="416.16" y2="1407.00" stroke="#f1f1f1" stroke-width="1.9"/>
<line x1="441.58" y1="723.20" x2="441.58" y2="1407.00" stroke="#f1f1f1" stroke-width="1.9"/>
<line x1="454.30" y1="723.20" x2="454.30" y2="1407.00" stroke="#f1f1f1" stroke-width="1.9"/>
<line x1="467.01" y1="723.20" x2="467.01" y2="1407.00" stroke="#f1f1f1" stroke-width="1.9"/>
<line x1="479.73" y1="723.20" x2="479.73" y2="1407.00" stroke="#f1f1f1" stroke-width="1.9"/>
<line x1="505.16" y1="723.20" x2="505.16" y2="1407.00" stroke="#f1f1f1" stroke-width="1.9"/>
<line x1="517.87" y1="723.20" x2="517.87" y2="1407.00" stroke="#f1f1f1" stroke-width="1.9"/>
<line x1="530.59" y1="723.20" x2="530.59" y2="1407.00" stroke="#f1f1f1" stroke-width="1.9"/>
<line x1="543.30" y1="723.20" x2="543.30" y2="1407.00" stroke="#f1f1f1" stroke-width="1.9"/>
<line x1="568.73" y1="723.20" x2="568.73" y2="1407.00" stroke="#f1f1f1" stroke-width="1.9"/>
<line x1="581.45" y1="723.20" x2="581.45" y2="1407.00" stroke="#f1f1f1" stroke-width="1.9"/>
<line x1="594.16" y1="723.20" x2="594.16" y2="1407.00" stroke="#f1f1f1" stroke-width="1.9"/>
<line x1="606.88" y1="723.20" x2="606.88" y2="1407.00" stroke="#f1f1f1" stroke-width="1.9"/>
<line x1="632.31" y1="723.20" x2="632.31" y2="1407.00" stroke="#f1f1f1" stroke-width="1.9"/>
<line x1="645.02" y1="723.20" x2="645.02" y2="1407.00" stroke="#f1f1f1" stroke-width="1.9"/>
<line x1="657.74" y1="723.20" x2="657.74" y2="1407.00" stroke="#f1f1f1" stroke-width="1.9"/>
<line x1="670.45" y1="723.20" x2="670.45" y2="1407.00" stroke="#f1f1f1" stroke-width="1.9"/>
<line x1="695.88" y1="723.20" x2="695.88" y2="1407.00" stroke="#f1f1f1" stroke-width="1.9"/>
<line x1="708.60" y1="723.20" x2="708.60" y2="1407.00" stroke="#f1f1f1" stroke-width="1.9"/>
<line x1="721.31" y1="723.20" x2="721.31" y2="1407.00" stroke="#f1f1f1" stroke-width="1.9"/>
<line x1="734.03" y1="723.20" x2="734.03" y2="1407.00" stroke="#f1f1f1" stroke-width="1.9"/>
<line x1="759.45" y1="723.20" x2="759.45" y2="1407.00" stroke="#f1f1f1" stroke-width="1.9"/>
<line x1="772.17" y1="723.20" x2="772.17" y2="1407.00" stroke="#f1f1f1" stroke-width="1.9"/>
<line x1="784.88" y1="723.20" x2="784.88" y2="1407.00" stroke="#f1f1f1" stroke-width="1.9"/>
<line x1="797.60" y1="723.20" x2="797.60" y2="1407.00" stroke="#f1f1f1" stroke-width="1.9"/>
<line x1="823.03" y1="723.20" x2="823.03" y2="1407.00" stroke="#f1f1f1" stroke-width="1.9"/>
<line x1="835.74" y1="723.20" x2="835.74" y2="1407.00" stroke="#f1f1f1" stroke-width="1.9"/>
<line x1="848.46" y1="723.20" x2="848.46" y2="1407.00" stroke="#f1f1f1" stroke-width="1.9"/>
<line x1="861.17" y1="723.20" x2="861.17" y2="1407.00" stroke="#f1f1f1" stroke-width="1.9"/>
<line x1="886.60" y1="723.20" x2="886.60" y2="1407.00" stroke="#f1f1f1" stroke-width="1.9"/>
<line x1="899.32" y1="723.20" x2="899.32" y2="1407.00" stroke="#f1f1f1" stroke-width="1.9"/>
<line x1="912.03" y1="723.20" x2="912.03" y2="1407.00" stroke="#f1f1f1" stroke-width="1.9"/>
<line x1="924.75" y1="723.20" x2="924.75" y2="1407.00" stroke="#f1f1f1" stroke-width="1.9"/>
<line x1="950.18" y1="723.20" x2="950.18" y2="1407.00" stroke="#f1f1f1" stroke-width="1.9"/>
<line x1="962.89" y1="723.20" x2="962.89" y2="1407.00" stroke="#f1f1f1" stroke-width="1.9"/>
<line x1="975.61" y1="723.20" x2="975.61" y2="1407.00" stroke="#f1f1f1" stroke-width="1.9"/>
<line x1="988.32" y1="723.20" x2="988.32" y2="1407.00" stroke="#f1f1f1" stroke-width="1.9"/>
<line x1="1013.75" y1="723.20" x2="1013.75" y2="1407.00" stroke="#f1f1f1" stroke-width="1.9"/>
<line x1="1026.47" y1="723.20" x2="1026.47" y2="1407.00" stroke="#f1f1f1" stroke-width="1.9"/>
<line x1="1039.18" y1="723.20" x2="1039.18" y2="1407.00" stroke="#f1f1f1" stroke-width="1.9"/>
<line x1="1051.90" y1="723.20" x2="1051.90" y2="1407.00" stroke="#f1f1f1" stroke-width="1.9"/>
<line x1="1077.32" y1="723.20" x2="1077.32" y2="1407.00" stroke="#f1f1f1" stroke-width="1.9"/>
<line x1="1090.04" y1="723.20" x2="1090.04" y2="1407.00" stroke="#f1f1f1" stroke-width="1.9"/>
<line x1="1102.75" y1="723.20" x2="1102.75" y2="1407.00" stroke="#f1f1f1" stroke-width="1.9"/>
<line x1="1115.47" y1="723.20" x2="1115.47" y2="1407.00" stroke="#f1f1f1" stroke-width="1.9"/>
<line x1="1140.90" y1="723.20" x2="1140.90" y2="1407.00" stroke="#f1f1f1" stroke-width="1.9"/>
<line x1="1153.61" y1="723.20" x2="1153.61" y2="1407.00" stroke="#f1f1f1" stroke-width="1.9"/>
<line x1="1166.33" y1="723.20" x2="1166.33" y2="1407.00" stroke="#f1f1f1" stroke-width="1.9"/>
<line x1="1179.04" y1="723.20" x2="1179.04" y2="1407.00" stroke="#f1f1f1" stroke-width="1.9"/>
<line x1="1204.47" y1="723.20" x2="1204.47" y2="1407.00" stroke="#f1f1f1" stroke-width="1.9"/>
<line x1="1217.19" y1="723.20" x2="1217.19" y2="1407.00" stroke="#f1f1f1" stroke-width="1.9"/>
<line x1="1229.90" y1="723.20" x2="1229.90" y2="1407.00" stroke="#f1f1f1" stroke-width="1.9"/>
<line x1="1242.62" y1="723.20" x2="1242.62" y2="1407.00" stroke="#f1f1f1" stroke-width="1.9"/>
<line x1="1268.05" y1="723.20" x2="1268.05" y2="1407.00" stroke="#f1f1f1" stroke-width="1.9"/>
<line x1="1280.76" y1="723.20" x2="1280.76" y2="1407.00" stroke="#f1f1f1" stroke-width="1.9"/>
<line x1="1293.48" y1="723.20" x2="1293.48" y2="1407.00" stroke="#f1f1f1" stroke-width="1.9"/>
<line x1="1306.19" y1="723.20" x2="1306.19" y2="1407.00" stroke="#f1f1f1" stroke-width="1.9"/>
<line x1="1331.62" y1="723.20" x2="1331.62" y2="1407.00" stroke="#f1f1f1" stroke-width="1.9"/>
<line x1="1344.34" y1="723.20" x2="1344.34" y2="1407.00" stroke="#f1f1f1" stroke-width="1.9"/>
<line x1="1357.05" y1="723.20" x2="1357.05" y2="1407.00" stroke="#f1f1f1" stroke-width="1.9"/>
<line x1="1369.77" y1="723.20" x2="1369.77" y2="1407.00" stroke="#f1f1f1" stroke-width="1.9"/>
<line x1="174.57" y1="723.20" x2="174.57" y2="1407.00" stroke="#d6d6d6" stroke-width="2.0"/>
<line x1="238.15" y1="723.20" x2="238.15" y2="1407.00" stroke="#d6d6d6" stroke-width="2.0"/>
<line x1="301.72" y1="723.20" x2="301.72" y2="1407.00" stroke="#d6d6d6" stroke-width="2.0"/>
<line x1="365.30" y1="723.20" x2="365.30" y2="1407.00" stroke="#d6d6d6" stroke-width="2.0"/>
<line x1="428.87" y1="723.20" x2="428.87" y2="1407.00" stroke="#d6d6d6" stroke-width="2.0"/>
<line x1="492.44" y1="723.20" x2="492.44" y2="1407.00" stroke="#d6d6d6" stroke-width="2.0"/>
<line x1="556.02" y1="723.20" x2="556.02" y2="1407.00" stroke="#d6d6d6" stroke-width="2.0"/>
<line x1="619.59" y1="723.20" x2="619.59" y2="1407.00" stroke="#d6d6d6" stroke-width="2.0"/>
<line x1="683.17" y1="723.20" x2="683.17" y2="1407.00" stroke="#d6d6d6" stroke-width="2.0"/>
<line x1="746.74" y1="723.20" x2="746.74" y2="1407.00" stroke="#d6d6d6" stroke-width="2.0"/>
<line x1="810.31" y1="723.20" x2="810.31" y2="1407.00" stroke="#d6d6d6" stroke-width="2.0"/>
<line x1="873.89" y1="723.20" x2="873.89" y2="1407.00" stroke="#d6d6d6" stroke-width="2.0"/>
<line x1="937.46" y1="723.20" x2="937.46" y2="1407.00" stroke="#d6d6d6" stroke-width="2.0"/>
<line x1="1001.04" y1="723.20" x2="1001.04" y2="1407.00" stroke="#d6d6d6" stroke-width="2.0"/>
<line x1="1064.61" y1="723.20" x2="1064.61" y2="1407.00" stroke="#d6d6d6" stroke-width="2.0"/>
<line x1="1128.18" y1="723.20" x2="1128.18" y2="1407.00" stroke="#d6d6d6" stroke-width="2.0"/>
<line x1="1191.76" y1="723.20" x2="1191.76" y2="1407.00" stroke="#d6d6d6" stroke-width="2.0"/>
<line x1="1255.33" y1="723.20" x2="1255.33" y2="1407.00" stroke="#d6d6d6" stroke-width="2.0"/>
<line x1="1318.91" y1="723.20" x2="1318.91" y2="1407.00" stroke="#d6d6d6" stroke-width="2.0"/>
<rect x="111.8" y="723.2" width="1271.8" height="683.8" fill="none" stroke="#000" stroke-width="4"/>
<line x1="174.57" y1="1407.00" x2="174.57" y2="1397.20" stroke="#000" stroke-width="1.8"/>
<line x1="238.15" y1="1407.00" x2="238.15" y2="1397.20" stroke="#000" stroke-width="1.8"/>
<line x1="301.72" y1="1407.00" x2="301.72" y2="1397.20" stroke="#000" stroke-width="1.8"/>
<line x1="365.30" y1="1407.00" x2="365.30" y2="1397.20" stroke="#000" stroke-width="1.8"/>
<line x1="428.87" y1="1407.00" x2="428.87" y2="1397.20" stroke="#000" stroke-width="1.8"/>
<line x1="492.44" y1="1407.00" x2="492.44" y2="1397.20" stroke="#000" stroke-width="1.8"/>
<line x1="556.02" y1="1407.00" x2="556.02" y2="1397.20" stroke="#000" stroke-width="1.8"/>
<line x1="619.59" y1="1407.00" x2="619.59" y2="1397.20" stroke="#000" stroke-width="1.8"/>
<line x1="683.17" y1="1407.00" x2="683.17" y2="1397.20" stroke="#000" stroke-width="1.8"/>
<line x1="746.74" y1="1407.00" x2="746.74" y2="1397.20" stroke="#000" stroke-width="1.8"/>
<line x1="810.31" y1="1407.00" x2="810.31" y2="1397.20" stroke="#000" stroke-width="1.8"/>
<line x1="873.89" y1="1407.00" x2="873.89" y2="1397.20" stroke="#000" stroke-width="1.8"/>
<line x1="937.46" y1="1407.00" x2="937.46" y2="1397.20" stroke="#000" stroke-width="1.8"/>
<line x1="1001.04" y1="1407.00" x2="1001.04" y2="1397.20" stroke="#000" stroke-width="1.8"/>
<line x1="1064.61" y1="1407.00" x2="1064.61" y2="1397.20" stroke="#000" stroke-width="1.8"/>
<line x1="1128.18" y1="1407.00" x2="1128.18" y2="1397.20" stroke="#000" stroke-width="1.8"/>
<line x1="1191.76" y1="1407.00" x2="1191.76" y2="1397.20" stroke="#000" stroke-width="1.8"/>
<line x1="1255.33" y1="1407.00" x2="1255.33" y2="1397.20" stroke="#000" stroke-width="1.8"/>
<line x1="1318.91" y1="1407.00" x2="1318.91" y2="1397.20" stroke="#000" stroke-width="1.8"/>
<line x1="111.80" y1="1338.60" x2="120.30" y2="1338.60" stroke="#000" stroke-width="1.8"/>
<line x1="111.80" y1="1270.20" x2="120.30" y2="1270.20" stroke="#000" stroke-width="1.8"/>
<line x1="111.80" y1="1201.80" x2="120.30" y2="1201.80" stroke="#000" stroke-width="1.8"/>
<line x1="111.80" y1="1133.40" x2="120.30" y2="1133.40" stroke="#000" stroke-width="1.8"/>
<line x1="111.80" y1="1065.00" x2="120.30" y2="1065.00" stroke="#000" stroke-width="1.8"/>
<line x1="111.80" y1="996.60" x2="120.30" y2="996.60" stroke="#000" stroke-width="1.8"/>
<line x1="111.80" y1="928.20" x2="120.30" y2="928.20" stroke="#000" stroke-width="1.8"/>
<line x1="111.80" y1="859.80" x2="120.30" y2="859.80" stroke="#000" stroke-width="1.8"/>
<line x1="111.80" y1="791.40" x2="120.30" y2="791.40" stroke="#000" stroke-width="1.8"/>
<text x="75.26" y="1417.76" font-size="33.5" fill="#000">0</text>
<text x="59.37" y="1350.46" font-size="33.5" fill="#000">10</text>
<text x="59.37" y="1282.06" font-size="33.5" fill="#000">20</text>
<text x="59.37" y="1213.66" font-size="33.5" fill="#000">30</text>
<text x="59.37" y="1145.26" font-size="33.5" fill="#000">40</text>
<text x="59.37" y="1076.86" font-size="33.5" fill="#000">50</text>
<text x="59.37" y="1008.46" font-size="33.5" fill="#000">60</text>
<text x="59.37" y="940.06" font-size="33.5" fill="#000">70</text>
<text x="59.37" y="871.66" font-size="33.5" fill="#000">80</text>
<text x="59.37" y="803.26" font-size="33.5" fill="#000">90</text>
<text x="40.70" y="734.86" font-size="33.5" fill="#000">100</text>
<text x="112.00" y="1455.57" font-size="33.5" text-anchor="middle">0</text>
<text x="175.69" y="1455.57" font-size="33.5" text-anchor="middle">1</text>
<text x="239.39" y="1455.57" font-size="33.5" text-anchor="middle">2</text>
<text x="303.08" y="1455.57" font-size="33.5" text-anchor="middle">3</text>
<text x="366.78" y="1455.57" font-size="33.5" text-anchor="middle">4</text>
<text x="430.47" y="1455.57" font-size="33.5" text-anchor="middle">5</text>
<text x="494.16" y="1455.57" font-size="33.5" text-anchor="middle">6</text>
<text x="557.86" y="1455.57" font-size="33.5" text-anchor="middle">7</text>
<text x="621.55" y="1455.57" font-size="33.5" text-anchor="middle">8</text>
<text x="685.25" y="1455.57" font-size="33.5" text-anchor="middle">9</text>
<text x="748.94" y="1455.57" font-size="33.5" text-anchor="middle">10</text>
<text x="812.63" y="1455.57" font-size="33.5" text-anchor="middle">11</text>
<text x="876.33" y="1455.57" font-size="33.5" text-anchor="middle">12</text>
<text x="940.02" y="1455.57" font-size="33.5" text-anchor="middle">13</text>
<text x="1003.72" y="1455.57" font-size="33.5" text-anchor="middle">14</text>
<text x="1067.41" y="1455.57" font-size="33.5" text-anchor="middle">15</text>
<text x="1131.10" y="1455.57" font-size="33.5" text-anchor="middle">16</text>
<text x="1194.80" y="1455.57" font-size="33.5" text-anchor="middle">17</text>
<text x="1258.49" y="1455.57" font-size="33.5" text-anchor="middle">18</text>
<text x="1322.19" y="1455.57" font-size="33.5" text-anchor="middle">19</text>
<text x="1385.88" y="1455.57" font-size="33.5" text-anchor="middle">20</text>
<text x="620.34" y="1500.30" font-size="33" fill="#000">Wind speed (m s</text>
<text x="867.08" y="1488.00" font-size="31.5" fill="#000">-1</text>
<text x="899.26" y="1500.30" font-size="31.5" fill="#000">)</text>
<g transform="translate(26.2,1326.2) rotate(-90)">
<text x="-0.08" y="0.00" font-size="33.2" fill="#000">Accumulative contribution rate (%)</text>
</g>
<circle cx="320.8" cy="723.0" r="4.70" fill="url(#gP1)" stroke="#2a55a0" stroke-width="1.2"/>
<circle cx="365.3" cy="724.4" r="4.70" fill="url(#gP1)" stroke="#2a55a0" stroke-width="1.2"/>
<circle cx="428.9" cy="726.4" r="4.70" fill="url(#gP1)" stroke="#2a55a0" stroke-width="1.2"/>
<circle cx="492.4" cy="728.5" r="4.70" fill="url(#gP1)" stroke="#2a55a0" stroke-width="1.2"/>
<circle cx="556.0" cy="740.1" r="4.70" fill="url(#gP1)" stroke="#2a55a0" stroke-width="1.2"/>
<circle cx="619.6" cy="747.6" r="4.70" fill="url(#gP1)" stroke="#2a55a0" stroke-width="1.2"/>
<circle cx="683.2" cy="771.6" r="4.70" fill="url(#gP1)" stroke="#2a55a0" stroke-width="1.2"/>
<circle cx="746.7" cy="785.2" r="4.70" fill="url(#gP1)" stroke="#2a55a0" stroke-width="1.2"/>
<circle cx="810.3" cy="796.9" r="4.70" fill="url(#gP1)" stroke="#2a55a0" stroke-width="1.2"/>
<circle cx="873.9" cy="816.7" r="4.70" fill="url(#gP1)" stroke="#2a55a0" stroke-width="1.2"/>
<circle cx="937.5" cy="851.6" r="4.70" fill="url(#gP1)" stroke="#2a55a0" stroke-width="1.2"/>
<circle cx="1001.0" cy="898.8" r="4.70" fill="url(#gP1)" stroke="#2a55a0" stroke-width="1.2"/>
<circle cx="1064.6" cy="984.3" r="4.70" fill="url(#gP1)" stroke="#2a55a0" stroke-width="1.2"/>
<circle cx="1128.2" cy="1118.4" r="4.70" fill="url(#gP1)" stroke="#2a55a0" stroke-width="1.2"/>
<circle cx="1191.8" cy="1257.9" r="4.70" fill="url(#gP1)" stroke="#2a55a0" stroke-width="1.2"/>
<circle cx="1255.3" cy="1370.7" r="4.70" fill="url(#gP1)" stroke="#2a55a0" stroke-width="1.2"/>
<circle cx="1318.9" cy="1403.6" r="4.70" fill="url(#gP1)" stroke="#2a55a0" stroke-width="1.2"/>
<circle cx="1382.5" cy="1406.3" r="4.70" fill="url(#gP1)" stroke="#2a55a0" stroke-width="1.2"/>
<circle cx="320.8" cy="723.0" r="4.80" fill="url(#gP2)" stroke="#6e98de" stroke-width="1.6"/>
<circle cx="365.3" cy="724.4" r="4.80" fill="url(#gP2)" stroke="#6e98de" stroke-width="1.6"/>
<circle cx="428.9" cy="725.1" r="4.80" fill="url(#gP2)" stroke="#6e98de" stroke-width="1.6"/>
<circle cx="492.4" cy="729.8" r="4.80" fill="url(#gP2)" stroke="#6e98de" stroke-width="1.6"/>
<circle cx="556.0" cy="740.1" r="4.80" fill="url(#gP2)" stroke="#6e98de" stroke-width="1.6"/>
<circle cx="619.6" cy="754.5" r="4.80" fill="url(#gP2)" stroke="#6e98de" stroke-width="1.6"/>
<circle cx="683.2" cy="767.5" r="4.80" fill="url(#gP2)" stroke="#6e98de" stroke-width="1.6"/>
<circle cx="746.7" cy="777.7" r="4.80" fill="url(#gP2)" stroke="#6e98de" stroke-width="1.6"/>
<circle cx="810.3" cy="796.9" r="4.80" fill="url(#gP2)" stroke="#6e98de" stroke-width="1.6"/>
<circle cx="873.9" cy="828.3" r="4.80" fill="url(#gP2)" stroke="#6e98de" stroke-width="1.6"/>
<circle cx="937.5" cy="894.7" r="4.80" fill="url(#gP2)" stroke="#6e98de" stroke-width="1.6"/>
<circle cx="1001.0" cy="997.3" r="4.80" fill="url(#gP2)" stroke="#6e98de" stroke-width="1.6"/>
<circle cx="1064.6" cy="1106.0" r="4.80" fill="url(#gP2)" stroke="#6e98de" stroke-width="1.6"/>
<circle cx="1128.2" cy="1218.9" r="4.80" fill="url(#gP2)" stroke="#6e98de" stroke-width="1.6"/>
<circle cx="1191.8" cy="1311.9" r="4.80" fill="url(#gP2)" stroke="#6e98de" stroke-width="1.6"/>
<circle cx="1255.3" cy="1383.1" r="4.80" fill="url(#gP2)" stroke="#6e98de" stroke-width="1.6"/>
<circle cx="1318.9" cy="1403.6" r="4.80" fill="url(#gP2)" stroke="#6e98de" stroke-width="1.6"/>
<circle cx="1382.5" cy="1405.6" r="4.80" fill="url(#gP2)" stroke="#6e98de" stroke-width="1.6"/>
<circle cx="320.8" cy="723.0" r="4.90" fill="url(#gP3)" stroke="#3ea3ae" stroke-width="1.2"/>
<circle cx="365.3" cy="724.4" r="4.90" fill="url(#gP3)" stroke="#3ea3ae" stroke-width="1.2"/>
<circle cx="428.9" cy="732.6" r="4.90" fill="url(#gP3)" stroke="#3ea3ae" stroke-width="1.2"/>
<circle cx="492.4" cy="740.8" r="4.90" fill="url(#gP3)" stroke="#3ea3ae" stroke-width="1.2"/>
<circle cx="556.0" cy="758.6" r="4.90" fill="url(#gP3)" stroke="#3ea3ae" stroke-width="1.2"/>
<circle cx="619.6" cy="783.9" r="4.90" fill="url(#gP3)" stroke="#3ea3ae" stroke-width="1.2"/>
<circle cx="683.2" cy="809.9" r="4.90" fill="url(#gP3)" stroke="#3ea3ae" stroke-width="1.2"/>
<circle cx="746.7" cy="841.3" r="4.90" fill="url(#gP3)" stroke="#3ea3ae" stroke-width="1.2"/>
<circle cx="810.3" cy="901.5" r="4.90" fill="url(#gP3)" stroke="#3ea3ae" stroke-width="1.2"/>
<circle cx="873.9" cy="991.1" r="4.90" fill="url(#gP3)" stroke="#3ea3ae" stroke-width="1.2"/>
<circle cx="937.5" cy="1077.3" r="4.90" fill="url(#gP3)" stroke="#3ea3ae" stroke-width="1.2"/>
<circle cx="1001.0" cy="1151.9" r="4.90" fill="url(#gP3)" stroke="#3ea3ae" stroke-width="1.2"/>
<circle cx="1064.6" cy="1212.1" r="4.90" fill="url(#gP3)" stroke="#3ea3ae" stroke-width="1.2"/>
<circle cx="1128.2" cy="1273.6" r="4.90" fill="url(#gP3)" stroke="#3ea3ae" stroke-width="1.2"/>
<circle cx="1191.8" cy="1331.8" r="4.90" fill="url(#gP3)" stroke="#3ea3ae" stroke-width="1.2"/>
<circle cx="1255.3" cy="1385.8" r="4.90" fill="url(#gP3)" stroke="#3ea3ae" stroke-width="1.2"/>
<circle cx="1318.9" cy="1403.6" r="4.90" fill="url(#gP3)" stroke="#3ea3ae" stroke-width="1.2"/>
<circle cx="1382.5" cy="1406.3" r="4.90" fill="url(#gP3)" stroke="#3ea3ae" stroke-width="1.2"/>
<circle cx="320.8" cy="723.0" r="5.50" fill="url(#gP4)" stroke="#ffbf00" stroke-width="1.4"/>
<circle cx="365.3" cy="724.4" r="5.50" fill="url(#gP4)" stroke="#ffbf00" stroke-width="1.4"/>
<circle cx="428.9" cy="733.9" r="5.50" fill="url(#gP4)" stroke="#ffbf00" stroke-width="1.4"/>
<circle cx="492.4" cy="749.0" r="5.50" fill="url(#gP4)" stroke="#ffbf00" stroke-width="1.4"/>
<circle cx="556.0" cy="775.0" r="5.50" fill="url(#gP4)" stroke="#ffbf00" stroke-width="1.4"/>
<circle cx="619.6" cy="813.3" r="5.50" fill="url(#gP4)" stroke="#ffbf00" stroke-width="1.4"/>
<circle cx="683.2" cy="856.4" r="5.50" fill="url(#gP4)" stroke="#ffbf00" stroke-width="1.4"/>
<circle cx="746.7" cy="906.3" r="5.50" fill="url(#gP4)" stroke="#ffbf00" stroke-width="1.4"/>
<circle cx="810.3" cy="985.0" r="5.50" fill="url(#gP4)" stroke="#ffbf00" stroke-width="1.4"/>
<circle cx="873.9" cy="1072.5" r="5.50" fill="url(#gP4)" stroke="#ffbf00" stroke-width="1.4"/>
<circle cx="937.5" cy="1166.2" r="5.50" fill="url(#gP4)" stroke="#ffbf00" stroke-width="1.4"/>
<circle cx="1001.0" cy="1257.2" r="5.50" fill="url(#gP4)" stroke="#ffbf00" stroke-width="1.4"/>
<circle cx="1064.6" cy="1330.4" r="5.50" fill="url(#gP4)" stroke="#ffbf00" stroke-width="1.4"/>
<circle cx="1128.2" cy="1406.3" r="5.50" fill="url(#gP4)" stroke="#ffbf00" stroke-width="1.4"/>
<circle cx="1191.8" cy="1398.1" r="5.50" fill="url(#gP4)" stroke="#ffbf00" stroke-width="1.4"/>
<circle cx="1255.3" cy="1404.9" r="5.50" fill="url(#gP4)" stroke="#ffbf00" stroke-width="1.4"/>
<circle cx="1318.9" cy="1407.0" r="5.50" fill="url(#gP4)" stroke="#ffbf00" stroke-width="1.4"/>
<circle cx="1382.5" cy="1407.0" r="5.50" fill="url(#gP4)" stroke="#ffbf00" stroke-width="1.4"/>
<circle cx="320.8" cy="723.0" r="5.10" fill="url(#gP6)" stroke="#365a26" stroke-width="1.8"/>
<circle cx="365.3" cy="724.4" r="5.10" fill="url(#gP6)" stroke="#365a26" stroke-width="1.8"/>
<circle cx="428.9" cy="733.3" r="5.10" fill="url(#gP6)" stroke="#365a26" stroke-width="1.8"/>
<circle cx="492.4" cy="750.4" r="5.10" fill="url(#gP6)" stroke="#365a26" stroke-width="1.8"/>
<circle cx="556.0" cy="783.9" r="5.10" fill="url(#gP6)" stroke="#365a26" stroke-width="1.8"/>
<circle cx="619.6" cy="831.8" r="5.10" fill="url(#gP6)" stroke="#365a26" stroke-width="1.8"/>
<circle cx="683.2" cy="889.9" r="5.10" fill="url(#gP6)" stroke="#365a26" stroke-width="1.8"/>
<circle cx="746.7" cy="966.5" r="5.10" fill="url(#gP6)" stroke="#365a26" stroke-width="1.8"/>
<circle cx="810.3" cy="1060.9" r="5.10" fill="url(#gP6)" stroke="#365a26" stroke-width="1.8"/>
<circle cx="873.9" cy="1160.8" r="5.10" fill="url(#gP6)" stroke="#365a26" stroke-width="1.8"/>
<circle cx="937.5" cy="1237.4" r="5.10" fill="url(#gP6)" stroke="#365a26" stroke-width="1.8"/>
<circle cx="1001.0" cy="1297.6" r="5.10" fill="url(#gP6)" stroke="#365a26" stroke-width="1.8"/>
<circle cx="1064.6" cy="1344.1" r="5.10" fill="url(#gP6)" stroke="#365a26" stroke-width="1.8"/>
<circle cx="1128.2" cy="1380.3" r="5.10" fill="url(#gP6)" stroke="#365a26" stroke-width="1.8"/>
<circle cx="1191.8" cy="1400.2" r="5.10" fill="url(#gP6)" stroke="#365a26" stroke-width="1.8"/>
<circle cx="1255.3" cy="1405.6" r="5.10" fill="url(#gP6)" stroke="#365a26" stroke-width="1.8"/>
<circle cx="1318.9" cy="1407.0" r="5.10" fill="url(#gP6)" stroke="#365a26" stroke-width="1.8"/>
<circle cx="1382.5" cy="1407.0" r="5.10" fill="url(#gP6)" stroke="#365a26" stroke-width="1.8"/>
<circle cx="320.8" cy="723.0" r="4.95" fill="url(#gP7)" stroke="#5a9838" stroke-width="1.5"/>
<circle cx="365.3" cy="724.4" r="4.95" fill="url(#gP7)" stroke="#5a9838" stroke-width="1.5"/>
<circle cx="428.9" cy="740.1" r="4.95" fill="url(#gP7)" stroke="#5a9838" stroke-width="1.5"/>
<circle cx="492.4" cy="771.6" r="4.95" fill="url(#gP7)" stroke="#5a9838" stroke-width="1.5"/>
<circle cx="556.0" cy="840.0" r="4.95" fill="url(#gP7)" stroke="#5a9838" stroke-width="1.5"/>
<circle cx="619.6" cy="952.8" r="4.95" fill="url(#gP7)" stroke="#5a9838" stroke-width="1.5"/>
<circle cx="683.2" cy="1087.6" r="4.95" fill="url(#gP7)" stroke="#5a9838" stroke-width="1.5"/>
<circle cx="746.7" cy="1200.4" r="4.95" fill="url(#gP7)" stroke="#5a9838" stroke-width="1.5"/>
<circle cx="810.3" cy="1298.9" r="4.95" fill="url(#gP7)" stroke="#5a9838" stroke-width="1.5"/>
<circle cx="873.9" cy="1382.0" r="4.95" fill="url(#gP7)" stroke="#5a9838" stroke-width="1.5"/>
<circle cx="937.5" cy="1407.0" r="4.95" fill="url(#gP7)" stroke="#5a9838" stroke-width="1.5"/>
<circle cx="1001.0" cy="1407.0" r="4.95" fill="url(#gP7)" stroke="#5a9838" stroke-width="1.5"/>
<circle cx="1064.6" cy="1407.0" r="4.95" fill="url(#gP7)" stroke="#5a9838" stroke-width="1.5"/>
<circle cx="1128.2" cy="1407.0" r="4.95" fill="url(#gP7)" stroke="#5a9838" stroke-width="1.5"/>
<circle cx="1191.8" cy="1407.0" r="4.95" fill="url(#gP7)" stroke="#5a9838" stroke-width="1.5"/>
<circle cx="1255.3" cy="1407.0" r="4.95" fill="url(#gP7)" stroke="#5a9838" stroke-width="1.5"/>
<circle cx="1318.9" cy="1407.0" r="4.95" fill="url(#gP7)" stroke="#5a9838" stroke-width="1.5"/>
<circle cx="1382.5" cy="1407.0" r="4.95" fill="url(#gP7)" stroke="#5a9838" stroke-width="1.5"/>
<circle cx="320.8" cy="723.0" r="5.25" fill="url(#gP8)" stroke="#383d43" stroke-width="1.5"/>
<circle cx="365.3" cy="724.4" r="5.25" fill="url(#gP8)" stroke="#383d43" stroke-width="1.5"/>
<circle cx="428.9" cy="738.0" r="5.25" fill="url(#gP8)" stroke="#383d43" stroke-width="1.5"/>
<circle cx="492.4" cy="755.8" r="5.25" fill="url(#gP8)" stroke="#383d43" stroke-width="1.5"/>
<circle cx="556.0" cy="790.0" r="5.25" fill="url(#gP8)" stroke="#383d43" stroke-width="1.5"/>
<circle cx="619.6" cy="846.8" r="5.25" fill="url(#gP8)" stroke="#383d43" stroke-width="1.5"/>
<circle cx="683.2" cy="922.7" r="5.25" fill="url(#gP8)" stroke="#383d43" stroke-width="1.5"/>
<circle cx="746.7" cy="1008.2" r="5.25" fill="url(#gP8)" stroke="#383d43" stroke-width="1.5"/>
<circle cx="810.3" cy="1107.4" r="5.25" fill="url(#gP8)" stroke="#383d43" stroke-width="1.5"/>
<circle cx="873.9" cy="1217.5" r="5.25" fill="url(#gP8)" stroke="#383d43" stroke-width="1.5"/>
<circle cx="937.5" cy="1309.2" r="5.25" fill="url(#gP8)" stroke="#383d43" stroke-width="1.5"/>
<circle cx="1001.0" cy="1368.7" r="5.25" fill="url(#gP8)" stroke="#383d43" stroke-width="1.5"/>
<circle cx="1064.6" cy="1395.4" r="5.25" fill="url(#gP8)" stroke="#383d43" stroke-width="1.5"/>
<circle cx="1128.2" cy="1405.6" r="5.25" fill="url(#gP8)" stroke="#383d43" stroke-width="1.5"/>
<circle cx="1191.8" cy="1407.0" r="5.25" fill="url(#gP8)" stroke="#383d43" stroke-width="1.5"/>
<circle cx="1255.3" cy="1407.0" r="5.25" fill="url(#gP8)" stroke="#383d43" stroke-width="1.5"/>
<circle cx="1318.9" cy="1407.0" r="5.25" fill="url(#gP8)" stroke="#383d43" stroke-width="1.5"/>
<circle cx="1382.5" cy="1407.0" r="5.25" fill="url(#gP8)" stroke="#383d43" stroke-width="1.5"/>
<circle cx="320.8" cy="723.0" r="5.00" fill="url(#gP9)" stroke="#f07a25" stroke-width="2.4"/>
<circle cx="365.3" cy="724.4" r="5.00" fill="url(#gP9)" stroke="#f07a25" stroke-width="2.4"/>
<circle cx="428.9" cy="731.2" r="5.00" fill="url(#gP9)" stroke="#f07a25" stroke-width="2.4"/>
<circle cx="492.4" cy="736.0" r="5.00" fill="url(#gP9)" stroke="#f07a25" stroke-width="2.4"/>
<circle cx="556.0" cy="744.2" r="5.00" fill="url(#gP9)" stroke="#f07a25" stroke-width="2.4"/>
<circle cx="619.6" cy="755.1" r="5.00" fill="url(#gP9)" stroke="#f07a25" stroke-width="2.4"/>
<circle cx="683.2" cy="772.2" r="5.00" fill="url(#gP9)" stroke="#f07a25" stroke-width="2.4"/>
<circle cx="746.7" cy="800.3" r="5.00" fill="url(#gP9)" stroke="#f07a25" stroke-width="2.4"/>
<circle cx="810.3" cy="838.6" r="5.00" fill="url(#gP9)" stroke="#f07a25" stroke-width="2.4"/>
<circle cx="873.9" cy="893.3" r="5.00" fill="url(#gP9)" stroke="#f07a25" stroke-width="2.4"/>
<circle cx="937.5" cy="967.9" r="5.00" fill="url(#gP9)" stroke="#f07a25" stroke-width="2.4"/>
<circle cx="1001.0" cy="1051.3" r="5.00" fill="url(#gP9)" stroke="#f07a25" stroke-width="2.4"/>
<circle cx="1064.6" cy="1124.5" r="5.00" fill="url(#gP9)" stroke="#f07a25" stroke-width="2.4"/>
<circle cx="1128.2" cy="1187.4" r="5.00" fill="url(#gP9)" stroke="#f07a25" stroke-width="2.4"/>
<circle cx="1191.8" cy="1272.9" r="5.00" fill="url(#gP9)" stroke="#f07a25" stroke-width="2.4"/>
<circle cx="1255.3" cy="1346.8" r="5.00" fill="url(#gP9)" stroke="#f07a25" stroke-width="2.4"/>
<circle cx="1318.9" cy="1389.9" r="5.00" fill="url(#gP9)" stroke="#f07a25" stroke-width="2.4"/>
<circle cx="1382.5" cy="1399.7" r="5.00" fill="url(#gP9)" stroke="#f07a25" stroke-width="2.4"/>
<circle cx="320.8" cy="723.0" r="5.20" fill="url(#gP10)" stroke="#1d3d0c" stroke-width="2.4"/>
<circle cx="365.3" cy="724.4" r="5.20" fill="url(#gP10)" stroke="#1d3d0c" stroke-width="2.4"/>
<circle cx="428.9" cy="728.5" r="5.20" fill="url(#gP10)" stroke="#1d3d0c" stroke-width="2.4"/>
<circle cx="492.4" cy="733.9" r="5.20" fill="url(#gP10)" stroke="#1d3d0c" stroke-width="2.4"/>
<circle cx="556.0" cy="735.0" r="5.20" fill="url(#gP10)" stroke="#1d3d0c" stroke-width="2.4"/>
<circle cx="619.6" cy="738.7" r="5.20" fill="url(#gP10)" stroke="#1d3d0c" stroke-width="2.4"/>
<circle cx="683.2" cy="740.1" r="5.20" fill="url(#gP10)" stroke="#1d3d0c" stroke-width="2.4"/>
<circle cx="746.7" cy="744.9" r="5.20" fill="url(#gP10)" stroke="#1d3d0c" stroke-width="2.4"/>
<circle cx="810.3" cy="758.6" r="5.20" fill="url(#gP10)" stroke="#1d3d0c" stroke-width="2.4"/>
<circle cx="873.9" cy="783.2" r="5.20" fill="url(#gP10)" stroke="#1d3d0c" stroke-width="2.4"/>
<circle cx="937.5" cy="831.1" r="5.20" fill="url(#gP10)" stroke="#1d3d0c" stroke-width="2.4"/>
<circle cx="1001.0" cy="904.9" r="5.20" fill="url(#gP10)" stroke="#1d3d0c" stroke-width="2.4"/>
<circle cx="1064.6" cy="1006.9" r="5.20" fill="url(#gP10)" stroke="#1d3d0c" stroke-width="2.4"/>
<circle cx="1128.2" cy="1129.3" r="5.20" fill="url(#gP10)" stroke="#1d3d0c" stroke-width="2.4"/>
<circle cx="1191.8" cy="1264.0" r="5.20" fill="url(#gP10)" stroke="#1d3d0c" stroke-width="2.4"/>
<circle cx="1255.3" cy="1361.9" r="5.20" fill="url(#gP10)" stroke="#1d3d0c" stroke-width="2.4"/>
<circle cx="1318.9" cy="1396.7" r="5.20" fill="url(#gP10)" stroke="#1d3d0c" stroke-width="2.4"/>
<circle cx="1382.5" cy="1402.9" r="5.20" fill="url(#gP10)" stroke="#1d3d0c" stroke-width="2.4"/>
<path d="M320.8 723.0 C328.2 723.2 347.3 722.8 365.3 724.4 C383.3 726.0 407.7 728.9 428.9 732.6 C450.1 736.2 471.3 740.1 492.4 746.3 C513.6 752.4 534.8 760.0 556.0 769.5 C577.2 779.0 598.4 790.0 619.6 803.0 C640.8 816.0 662.0 832.2 683.2 847.5 C704.4 862.8 725.5 877.6 746.7 894.7 C767.9 911.8 789.1 929.7 810.3 950.1 C831.5 970.5 852.7 994.9 873.9 1017.1 C895.1 1039.3 916.3 1061.4 937.5 1083.5 C958.7 1105.6 979.8 1128.2 1001.0 1149.8 C1022.2 1171.5 1043.4 1192.1 1064.6 1213.4 C1085.8 1234.7 1107.0 1256.7 1128.2 1277.7 C1149.4 1298.7 1170.6 1320.8 1191.8 1339.3 C1212.9 1357.8 1234.1 1377.8 1255.3 1388.5 C1276.5 1399.2 1297.7 1400.6 1318.9 1403.6 C1340.1 1406.5 1371.9 1405.9 1382.5 1406.3" fill="none" stroke="#d83305" stroke-width="3.2"/>
<path d="M320.8 716.6 L327.1 728.7 L314.5 728.7 Z" fill="#db3804"/>
<path d="M365.3 718.0 L371.6 730.1 L359.0 730.1 Z" fill="#db3804"/>
<path d="M428.9 726.2 L435.2 738.3 L422.6 738.3 Z" fill="#db3804"/>
<path d="M492.4 739.9 L498.7 752.0 L486.1 752.0 Z" fill="#db3804"/>
<path d="M556.0 763.1 L562.3 775.2 L549.7 775.2 Z" fill="#db3804"/>
<path d="M619.6 796.6 L625.9 808.7 L613.3 808.7 Z" fill="#db3804"/>
<path d="M683.2 841.1 L689.5 853.2 L676.9 853.2 Z" fill="#db3804"/>
<path d="M746.7 888.3 L753.0 900.4 L740.4 900.4 Z" fill="#db3804"/>
<path d="M810.3 943.7 L816.6 955.8 L804.0 955.8 Z" fill="#db3804"/>
<path d="M873.9 1010.7 L880.2 1022.8 L867.6 1022.8 Z" fill="#db3804"/>
<path d="M937.5 1077.1 L943.8 1089.2 L931.2 1089.2 Z" fill="#db3804"/>
<path d="M1001.0 1143.4 L1007.3 1155.5 L994.7 1155.5 Z" fill="#db3804"/>
<path d="M1064.6 1207.0 L1070.9 1219.1 L1058.3 1219.1 Z" fill="#db3804"/>
<path d="M1128.2 1271.3 L1134.5 1283.4 L1121.9 1283.4 Z" fill="#db3804"/>
<path d="M1191.8 1332.9 L1198.1 1345.0 L1185.5 1345.0 Z" fill="#db3804"/>
<path d="M1255.3 1382.1 L1261.6 1394.2 L1249.0 1394.2 Z" fill="#db3804"/>
<path d="M1318.9 1397.2 L1325.2 1409.3 L1312.6 1409.3 Z" fill="#db3804"/>
<path d="M1382.5 1399.9 L1388.8 1412.0 L1376.2 1412.0 Z" fill="#db3804"/>
<circle cx="210.3" cy="1203.1" r="4.28" fill="url(#gP1)" stroke="#2a55a0" stroke-width="1.2"/>
<text x="242.22" y="1211.90" font-size="27.6" fill="#000">P1</text>
<circle cx="354.0" cy="1203.1" r="4.35" fill="url(#gP2)" stroke="#6e98de" stroke-width="1.6"/>
<text x="385.22" y="1211.90" font-size="27.6" fill="#000">P2</text>
<circle cx="497.4" cy="1203.1" r="4.46" fill="url(#gP3)" stroke="#3ea3ae" stroke-width="1.2"/>
<text x="528.72" y="1211.90" font-size="27.6" fill="#000">P3</text>
<circle cx="210.3" cy="1243.3" r="5.00" fill="url(#gP4)" stroke="#ffbf00" stroke-width="1.4"/>
<text x="242.22" y="1251.30" font-size="27.6" fill="#000">P4</text>
<circle cx="354.0" cy="1243.3" r="4.62" fill="url(#gP6)" stroke="#365a26" stroke-width="1.8"/>
<text x="385.22" y="1251.30" font-size="27.6" fill="#000">P6</text>
<circle cx="497.4" cy="1243.3" r="4.49" fill="url(#gP7)" stroke="#5a9838" stroke-width="1.5"/>
<text x="528.72" y="1251.30" font-size="27.6" fill="#000">P7</text>
<circle cx="210.3" cy="1281.4" r="4.77" fill="url(#gP8)" stroke="#383d43" stroke-width="1.5"/>
<text x="242.22" y="1289.30" font-size="27.6" fill="#000">P8</text>
<circle cx="354.0" cy="1281.4" r="4.50" fill="url(#gP9)" stroke="#f07a25" stroke-width="2.4"/>
<text x="385.22" y="1289.30" font-size="27.6" fill="#000">P9</text>
<circle cx="497.4" cy="1281.4" r="4.69" fill="url(#gP10)" stroke="#1d3d0c" stroke-width="2.4"/>
<text x="528.72" y="1289.30" font-size="27.6" fill="#000">P10</text>
<line x1="182.30" y1="1321.10" x2="238.40" y2="1321.10" stroke="#d83305" stroke-width="3.2"/>
<path d="M209.7 1314.3 L216.0 1326.3 L203.4 1326.3 Z" fill="#db3804"/>
<text x="244.23" y="1329.50" font-size="28.2" fill="#000">Average value of all periods</text>
<text x="1316.28" y="793.70" font-size="71" fill="#000">c</text>
</g>
</svg></body></html>
